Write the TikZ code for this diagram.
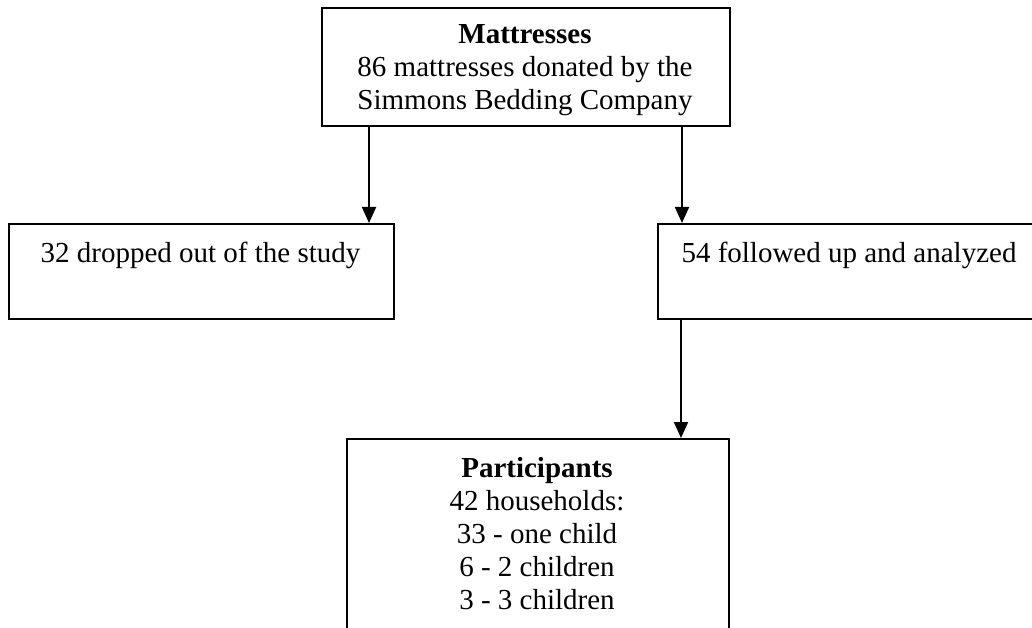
\documentclass[tikz,border=0pt]{standalone}
\usepackage{fontspec}
\setmainfont{Liberation Serif}
\usetikzlibrary{arrows.meta,calc}
\begin{document}
\begin{tikzpicture}[x=1pt,y=-1pt,
  box/.style={draw, line width=2pt, inner sep=0pt, anchor=north west},
  txt/.style={font=\fontsize{29}{33}\selectfont, align=center, inner sep=0pt, anchor=base},
  arr/.style={line width=2pt, -{Triangle[width=14pt,length=16pt]}}]
\clip (0,0) rectangle (1032,628);
\fill[white] (0,0) rectangle (1032,628);
\node[box, minimum width=408pt, minimum height=118pt] (top) at (321,7) {};
\node[box, minimum width=385pt, minimum height=95pt] (drop) at (8,223) {};
\node[box, minimum width=390pt, minimum height=95pt] (follow) at (657,223) {};
\node[box, minimum width=382pt, minimum height=230pt] (part) at (346,438) {};
\node[txt] (topt) at (525,110) {\textbf{Mattresses}\\86 mattresses donated by the\\Simmons Bedding Company};
\node[txt] (dropt) at (200.5,262) {32 dropped out of the study};
\node[txt] (followt) at (849,262) {54 followed up and analyzed};
\node[txt] (partt) at (537,609) {\textbf{Participants}\\42 households:\\33 - one child\\6 - 2 children\\3 - 3 children};
\coordinate (s1) at ([xshift=48pt]top.south west);
\draw[arr] (s1) -- (s1 |- drop.north);
\coordinate (s2) at ([xshift=-49pt]top.south east);
\draw[arr] (s2) -- (s2 |- follow.north);
\coordinate (s3) at ([xshift=24pt]follow.south west);
\draw[arr] (s3) -- (s3 |- part.north);
\end{tikzpicture}
\end{document}
